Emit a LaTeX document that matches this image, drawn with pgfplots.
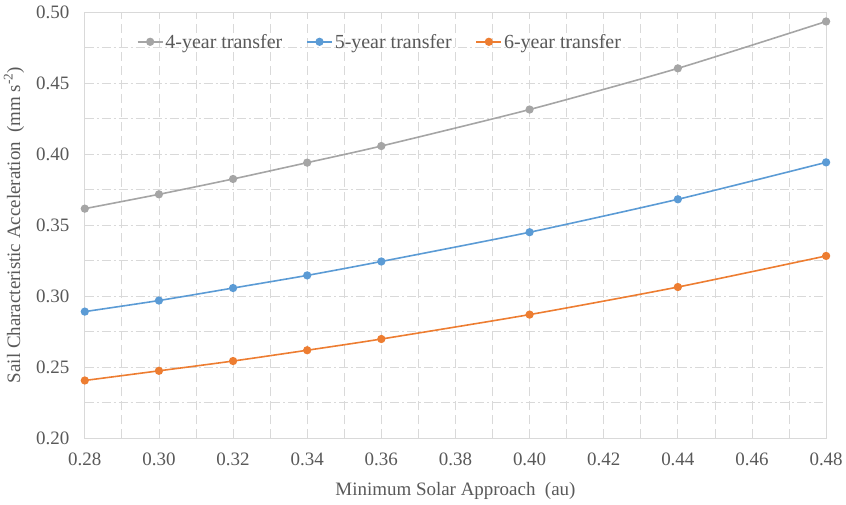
\documentclass[border=0pt]{standalone}
\usepackage{fontspec}
\setmainfont{Liberation Serif}
\usepackage{pgfplots}
\pgfplotsset{compat=1.18}

\definecolor{txtgray}{HTML}{595959}
\definecolor{gridgray}{HTML}{D9D9D9}
\definecolor{minorgray}{HTML}{E6E6E6}
\definecolor{sgray}{HTML}{A5A5A5}
\definecolor{sblue}{HTML}{5B9BD5}
\definecolor{sorange}{HTML}{ED7D31}

\begin{document}
\begin{tikzpicture}
\begin{axis}[
  scale only axis,
  width=743bp, height=427bp,
  xmin=0.28, xmax=0.48, ymin=0.20, ymax=0.50,
  xtick={0.28,0.30,...,0.481},
  ytick={0.20,0.25,...,0.501},
  minor x tick num=1, minor y tick num=1,
  tick style={draw=none},
  axis line style={draw=gridgray, line width=0.8bp},
  grid=both,
  x grid style={draw=gridgray, line width=0.8bp, dash pattern=on 9bp off 5bp},
  y grid style={draw=gridgray, line width=0.8bp, dash pattern=on 9bp off 3bp on 2bp off 3bp},
  minor grid style={draw=minorgray, line width=0.7bp, dash pattern=on 7bp off 3bp on 1.5bp off 3bp},
  font=\fontsize{19bp}{22bp}\selectfont,
  ticklabel style={text=txtgray, font=\fontsize{19bp}{22bp}\selectfont},
  /pgf/number format/assume math mode=true,
  /pgf/number format/.cd, fixed, fixed zerofill, precision=2, /pgfplots/.cd,
  xticklabel style={yshift=-11bp},
  yticklabel style={xshift=-12bp},
  xlabel={Minimum Solar Approach\ \ (au)},
  ylabel={Sail Characteristic Acceleration\ \ (mm s\textsuperscript{-2})},
  xlabel style={text=txtgray, anchor=base, at={(axis description cs:0.5,-0.1358)}},
  ylabel style={text=txtgray, anchor=center, at={(axis description cs:-0.0956,0.5)}},
  legend columns=3,
  legend style={draw=none, fill=none, text=txtgray, anchor=west,
    at={(axis description cs:0.066,0.93)},
    font=\fontsize{20bp}{23bp}\selectfont,
    /tikz/every even column/.append style={column sep=22bp}},
  legend image code/.code={%
    \draw[mark repeat=2,mark phase=2] plot coordinates {(0bp,0bp) (12.5bp,0bp) (25bp,0bp)};},
  every axis plot/.append style={line width=1.6bp, smooth, tension=0.4,
    mark=*, mark size=3.3bp, mark options={solid}},
]
\addplot[color=sgray] coordinates {
  (0.28,0.3615) (0.30,0.3716) (0.32,0.3824) (0.34,0.3939)
  (0.36,0.4056) (0.40,0.4313) (0.44,0.4603) (0.48,0.4933)};
\addlegendentry{4-year transfer}
\addplot[color=sblue] coordinates {
  (0.28,0.2890) (0.30,0.2968) (0.32,0.3056) (0.34,0.3145)
  (0.36,0.3243) (0.40,0.3449) (0.44,0.3681) (0.48,0.3941)};
\addlegendentry{5-year transfer}
\addplot[color=sorange] coordinates {
  (0.28,0.2405) (0.30,0.2473) (0.32,0.2542) (0.34,0.2618)
  (0.36,0.2697) (0.40,0.2869) (0.44,0.3063) (0.48,0.3282)};
\addlegendentry{6-year transfer}
\end{axis}
\path[use as bounding box] (-85bp,-67bp) rectangle (761bp,439bp);
\end{tikzpicture}
\end{document}
